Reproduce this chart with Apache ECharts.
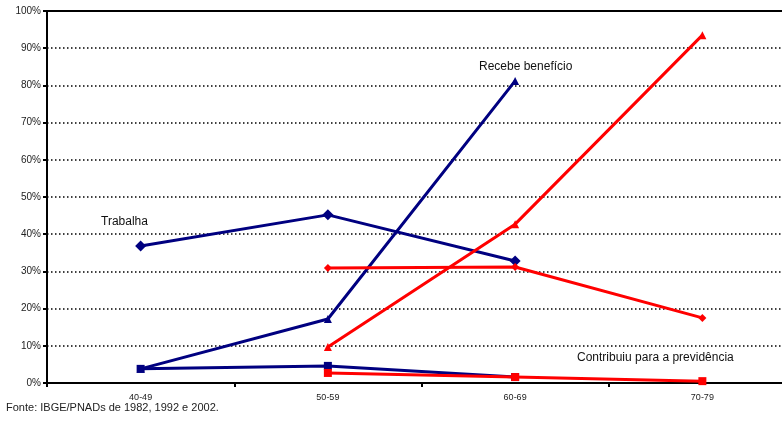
<!DOCTYPE html>
<html>
<head>
<meta charset="utf-8">
<script src="https://cdn.jsdelivr.net/npm/echarts@6/dist/echarts.min.js"></script>
<style>
  html, body { margin: 0; padding: 0; background: #fff; overflow: hidden; }
  /* the plot runs past the right edge of the page, so the canvas is a bit wider */
  #chart { width: 800px; height: 423px; }
</style>
</head>
<body>
<div id="chart"></div>
<script>
// Age groups along the horizontal axis
const faixas = ['40-49', '50-59', '60-69', '70-79'];

// Percentages per age group (two cohorts: navy and red)
const trabalhaAzul   = [36.8, 45.2, 32.8, null];
const recebeAzul     = [3.8, 17.2, 81.2, null];
const contribuiAzul  = [3.8, 4.6, 1.6, null];

const trabalhaVerm   = [null, 30.9, 31.2, 17.5];
const recebeVerm     = [null, 9.7, 42.7, 93.5];
const contribuiVerm  = [null, 2.7, 1.6, 0.5];

const yTicks = [0, 10, 20, 30, 40, 50, 60, 70, 80, 90, 100];

const NAVY = '#000080';
const RED = '#ff0000';
const FONT = '"Liberation Sans", Arial, sans-serif';

function serie(name, data, color, symbol, size) {
  return {
    name, type: 'line', data,
    xAxisIndex: 0, yAxisIndex: 0,
    symbol, symbolSize: size,
    lineStyle: { color, width: 3 },
    itemStyle: { color },
    emphasis: { disabled: true },
    animation: false,
    z: color === RED ? 4 : 3
  };
}

const chart = echarts.init(document.getElementById('chart'), null, { renderer: 'canvas' });
chart.setOption({
  animation: false,
  grid: { left: 47, top: 11, right: 4, height: 372, containLabel: false },
  xAxis: [{
    type: 'category',
    data: faixas,
    boundaryGap: true,
    position: 'bottom',
    axisLine: { lineStyle: { color: '#000', width: 2 } },
    axisTick: { show: true, length: 4, lineStyle: { color: '#000', width: 2 } },
    axisLabel: { color: '#222', fontSize: 9, fontFamily: FONT, margin: 10 },
    splitLine: { show: false }
  }, {
    type: 'category',
    data: faixas,
    position: 'top',
    axisLine: { lineStyle: { color: '#000', width: 2 } },
    axisTick: { show: false },
    axisLabel: { show: false }
  }],
  yAxis: {
    type: 'value',
    min: yTicks[0], max: yTicks[yTicks.length - 1], interval: 10,
    axisLine: { show: true, lineStyle: { color: '#000', width: 2 } },
    axisTick: { show: true, length: 4, lineStyle: { color: '#000', width: 2 } },
    axisLabel: { formatter: '{value}%', color: '#222', fontSize: 10, fontFamily: FONT, margin: 6 },
    splitLine: { show: true, lineStyle: { color: '#000', width: 1.5, type: [1.5, 2.5] } }
  },
  series: [
    serie('Trabalha (azul)', trabalhaAzul, NAVY, 'diamond', 11),
    serie('Recebe benefício (azul)', recebeAzul, NAVY, 'triangle', 8),
    serie('Contribuiu (azul)', contribuiAzul, NAVY, 'rect', 8),
    serie('Trabalha (vermelho)', trabalhaVerm, RED, 'diamond', 8),
    serie('Recebe benefício (vermelho)', recebeVerm, RED, 'triangle', 8),
    serie('Contribuiu (vermelho)', contribuiVerm, RED, 'rect', 8)
  ],
  graphic: [
    { type: 'text', left: 101, top: 216, style: { text: 'Trabalha', fill: '#111', font: '12px ' + FONT } },
    { type: 'text', left: 479, top: 61, style: { text: 'Recebe benefício', fill: '#111', font: '12px ' + FONT } },
    { type: 'text', left: 577, top: 352, style: { text: 'Contribuiu para a previdência', fill: '#111', font: '12px ' + FONT } },
    { type: 'text', left: 6, top: 402, style: { text: 'Fonte: IBGE/PNADs de 1982, 1992 e 2002.', fill: '#222', font: '11px ' + FONT } }
  ]
});
</script>
</body>
</html>
